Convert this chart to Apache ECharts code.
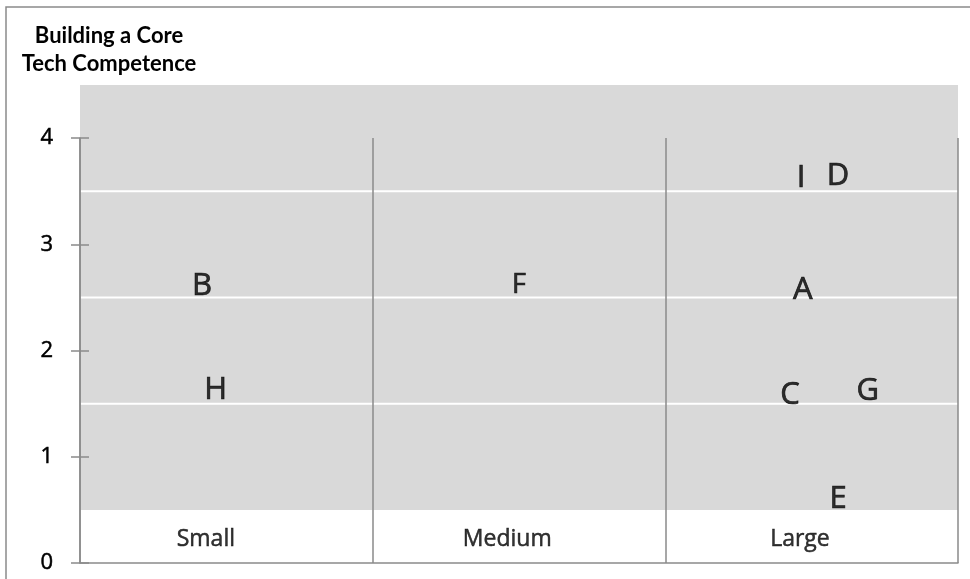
<!DOCTYPE html>
<html>
<head>
<meta charset="utf-8">
<script src="https://cdn.jsdelivr.net/npm/echarts@6/dist/echarts.min.js"></script>
<style>html,body{margin:0;padding:0;background:#fff}#c{width:970px;height:579px}</style>
</head>
<body>
<div id="c"></div>
<script>
// ---- data ----
const titleLines = ['Building a Core', 'Tech Competence'];
const categories = ['Small', 'Medium', 'Large'];
const categoryLabelX = [0.43, 1.46, 2.46];
const categoryLabelY = [0.25, 0.25, 0.25];
const yTicks = [0, 1, 2, 3, 4];
const pointLabels = ['A', 'B', 'C', 'D', 'E', 'F', 'G', 'H', 'I'];
const pointX = [2.47, 0.417, 2.426, 2.59, 2.59, 1.5, 2.692, 0.464, 2.464];
const pointY = [2.59, 2.626, 1.6, 3.66, 0.62, 2.63, 1.64, 1.647, 3.64];
const bandRange = [0.5, 4.5];
const bandLines = [1.5, 2.5, 3.5];

// ---- style ----
const FONT = 'Lato';
const FONT2 = 'Open Sans';
const AXIS = '#8a8a8a';
const smallLetters = new Set(['F']);

const chart = echarts.init(document.getElementById('c'), null, {renderer: 'canvas'});

const pointData = pointLabels.map((n, i) => ({
  name: n,
  value: [pointX[i], pointY[i]],
  label: {fontSize: smallLetters.has(n) ? 27 : 31}
}));
const catData = categories.map((n, i) => ({name: n, value: [categoryLabelX[i], categoryLabelY[i]]}));

const option = {
  animation: false,
  backgroundColor: '#fff',
  graphic: [
    {type: 'rect', shape: {x: 6, y: 7, width: 1000, height: 1000},
     style: {fill: 'none', stroke: AXIS, lineWidth: 1.5}, z: -10},
    {type: 'text', x: 109, y: 22, style: {text: titleLines.join('\n'), fontFamily: FONT,
      fontWeight: 'bold', fontSize: 22, lineHeight: 28, fill: '#000', align: 'center'}}
  ],
  grid: {left: 80, right: 12, top: 138, bottom: 16},
  xAxis: {
    type: 'value', min: 0, max: categories.length, interval: 1,
    axisLine: {show: true, onZero: false, lineStyle: {color: AXIS, width: 1.5}},
    axisTick: {show: false}, axisLabel: {show: false},
    splitLine: {show: true, lineStyle: {color: AXIS, width: 1.5}}
  },
  yAxis: [{
    type: 'value', min: yTicks[0], max: yTicks[yTicks.length - 1], interval: 1,
    axisLine: {show: true, lineStyle: {color: AXIS, width: 1.5}},
    axisTick: {show: true, length: 9, lineStyle: {color: AXIS, width: 1.5}},
    axisLabel: {show: true, margin: 27, fontFamily: FONT2, fontSize: 22, color: '#000',
      textBorderColor: '#000', textBorderWidth: 0.5},
    splitLine: {show: false}
  }, {
    type: 'value', position: 'left', min: yTicks[0], max: yTicks[yTicks.length - 1], interval: 1,
    axisLine: {show: false},
    axisTick: {show: true, inside: true, length: 9, lineStyle: {color: AXIS, width: 1.5}},
    axisLabel: {show: false}, splitLine: {show: false}
  }],
  series: [{
    type: 'custom', z: -1, clip: false, silent: true,
    data: [[0]],
    renderItem: function (params, api) {
      const p0 = api.coord([0, bandRange[1]]);
      const p1 = api.coord([categories.length, bandRange[0]]);
      const children = [{type: 'rect', shape: {x: p0[0], y: p0[1], width: p1[0] - p0[0], height: p1[1] - p0[1]},
        style: {fill: '#d9d9d9'}}];
      bandLines.forEach(v => {
        const a = api.coord([0, v]);
        children.push({type: 'line', shape: {x1: a[0], y1: a[1], x2: p1[0], y2: a[1]},
          style: {stroke: '#ffffff', lineWidth: 2}});
      });
      return {type: 'group', children: children};
    }
  }, {
    type: 'scatter', symbolSize: 1, itemStyle: {color: 'rgba(0,0,0,0)'}, z: 5,
    data: pointData,
    label: {show: true, position: 'inside', offset: [0, 2], formatter: '{b}', fontFamily: FONT2,
      color: '#000', textBorderColor: '#000', textBorderWidth: 0.7}
  }, {
    type: 'scatter', symbolSize: 1, itemStyle: {color: 'rgba(0,0,0,0)'}, z: 5,
    data: catData,
    label: {show: true, position: 'inside', offset: [0, 3], formatter: '{b}', fontFamily: FONT2,
      fontSize: 23, color: '#000', textBorderColor: '#000', textBorderWidth: 0.5}
  }]
};
chart.setOption(option);
</script>
</body>
</html>
